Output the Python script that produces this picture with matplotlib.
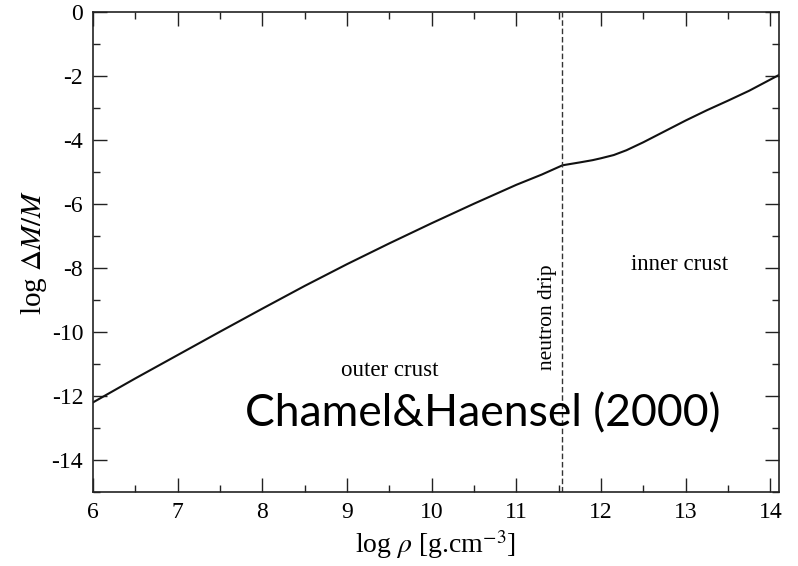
"""Mass fraction of the neutron star crust versus density."""

import matplotlib

matplotlib.use("Agg")
import matplotlib.pyplot as plt
from matplotlib.ticker import MultipleLocator

# log density [g cm^-3] and log(ΔM/M) along the crust
log_rho = [6.0, 6.5, 7.0, 7.5, 8.0, 8.5, 9.0, 9.5, 10.0, 10.5, 11.0, 11.3, 11.545,
           11.75, 11.9, 12.0, 12.15, 12.3, 12.5, 12.75, 13.0, 13.25, 13.5, 13.75, 14.1]
log_dm = [-12.2, -11.45, -10.72, -9.99, -9.27, -8.56, -7.88, -7.23, -6.6, -5.99,
          -5.4, -5.08, -4.79,
          -4.7, -4.63, -4.57, -4.47, -4.32, -4.07, -3.73, -3.39, -3.07, -2.77,
          -2.46, -1.97]

neutron_drip = 11.545
xlim = (6.0, 14.1)
ylim = (-15.0, 0.0)

plt.rcParams["mathtext.fontset"] = "stix"
plt.rcParams["axes.unicode_minus"] = False
serif = ["Liberation Serif", "DejaVu Serif"]

fig = plt.figure(figsize=(7.98, 5.66), dpi=100)
ax = fig.add_axes([0.1165, 0.1307, 0.8595, 0.8481])

ax.plot(log_rho, log_dm, color="#111111", lw=1.5)
ax.axvline(neutron_drip, color="#333333", lw=1.0, ls=(0, (4, 2)))

ax.set_xlim(*xlim)
ax.set_ylim(*ylim)
ax.xaxis.set_major_locator(MultipleLocator(1))
ax.xaxis.set_minor_locator(MultipleLocator(0.5))
ax.yaxis.set_major_locator(MultipleLocator(2))
ax.yaxis.set_minor_locator(MultipleLocator(1))
ax.tick_params(which="both", direction="in", top=True, right=True,
               width=1.0, color="#222222", labelsize=17, pad=7)
ax.tick_params(which="major", length=10)
ax.tick_params(which="minor", length=5)
for lab in ax.get_xticklabels() + ax.get_yticklabels():
    lab.set_family(serif)
for sp in ax.spines.values():
    sp.set_linewidth(1.2)
    sp.set_color("#222222")

ax.set_xlabel(r"log $\rho$ [g.cm$^{-3}$]", family=serif, fontsize=20, labelpad=4)
ax.set_ylabel(r"log $\Delta M/M$", family=serif, fontsize=21, labelpad=2)

ax.text(9.5, -11.2, "outer crust", family=serif, fontsize=16.5,
        ha="center", va="center")
ax.text(12.93, -7.9, "inner crust", family=serif, fontsize=16.5,
        ha="center", va="center")
ax.text(11.37, -9.55, "neutron drip", family=serif, fontsize=15.5,
        ha="center", va="center", rotation=90)
ax.text(10.6, -12.55, "Chamel&Haensel (2000)", family=["Lato", "DejaVu Sans"],
        fontsize=32, ha="center", va="center")

fig.savefig("out.png", dpi=100)
